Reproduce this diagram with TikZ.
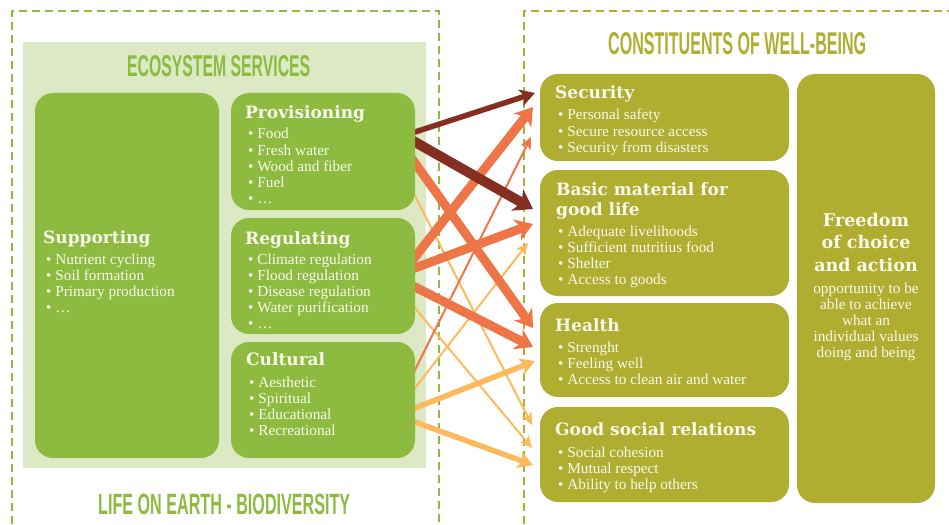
\documentclass[tikz,border=0pt]{standalone}
\usepackage{fontspec}
\usepackage{graphicx}
\setmainfont{Liberation Serif}
\newfontfamily\headfont{DejaVu Serif}
\newfontfamily\titlefont{Liberation Sans}
\usetikzlibrary{arrows.meta,calc}

\definecolor{leafgreen}{HTML}{8CBB3F}
\definecolor{paleleaf}{HTML}{DCE9C4}
\definecolor{olive}{HTML}{AFAE30}
\definecolor{paper}{HTML}{FAF9EE}
\definecolor{rust}{HTML}{852F22}
\definecolor{coral}{HTML}{EE7547}
\definecolor{apricot}{HTML}{FDB95C}

\pgfdeclarelayer{back}
\pgfdeclarelayer{links}
\pgfsetlayers{back,links,main}

\tikzset{
  gbox/.style={fill=leafgreen, draw=none, rounded corners=18pt, inner sep=0pt,
               outer sep=0pt, anchor=north west},
  obox/.style={gbox, fill=olive},
  head/.style={font=\headfont\bfseries\fontsize{17}{20.5}\selectfont, text=paper,
               inner sep=0pt, anchor=base west},
  itemtext/.style={font=\fontsize{15.3}{16.2}\selectfont, text=paper,
               inner sep=0pt, anchor=base west},
  frame/.style={line width=2pt, dash pattern=on 8pt off 5pt},
  title/.style={inner sep=0pt, anchor=base west},
  link/.style={draw=#1, line join=miter, shorten <=-8pt},
  heavy/.style={line width=10pt, -{Stealth[length=18pt,width=24pt,inset=5pt]}},
  broad/.style={line width=9pt, -{Stealth[length=17pt,width=22pt,inset=5pt]}},
  medium/.style={line width=5.5pt, -{Stealth[length=15pt,width=17pt,inset=4pt]}},
  fine/.style={line width=2pt, -{Stealth[length=12pt,width=11pt,inset=3pt]}},
}

% bulleted lines inside a box: #1 box, #2/#3 offset of first baseline, #4 items
\newcommand\itemlines[4]{%
  \foreach \txt [count=\k] in {#4}{%
    \node[itemtext] (#1-i\k) at ($(#1.north west)+(#2,{#3+(\k-1)*16.2})$)
      {\textbullet\ \txt};
  }}

\begin{document}
\begin{tikzpicture}[x=1pt,y=-1pt]
\useasboundingbox (0,0) rectangle (949,524);

% background panel and dashed frames
\begin{pgfonlayer}{back}
  \fill[paleleaf] (23,42) rectangle (426,468);
  \draw[frame, draw=leafgreen] (12,524) -- (12,11) -- (439,11) -- (439,524);
  \draw[frame, draw=olive] (524,524) -- (524,11) -- (949,11);
\end{pgfonlayer}

% section titles
\node[title, text=leafgreen] (es-title) at (127,77)
  {\resizebox{183pt}{21pt}{\titlefont\bfseries ECOSYSTEM SERVICES}};
\node[title, text=olive] (wb-title) at (608,55)
  {\resizebox{258pt}{22pt}{\titlefont\bfseries CONSTITUENTS OF WELL-BEING}};
\node[title, text=leafgreen] (bio-title) at (98,514)
  {\resizebox{252pt}{20.5pt}{\titlefont\bfseries LIFE ON EARTH - BIODIVERSITY}};

% ecosystem services
\node[gbox, minimum width=184pt, minimum height=365pt] (sup) at (35,93) {};
\node[gbox, minimum width=184pt, minimum height=117pt] (prov) at (231,93) {};
\node[gbox, minimum width=184pt, minimum height=116pt] (reg) at (231,218) {};
\node[gbox, minimum width=184pt, minimum height=116pt] (cult) at (231,342) {};

\node[head] (sup-h) at ($(sup.north west)+(8,150)$) {Supporting};
\itemlines{sup}{11}{171}{Nutrient cycling,Soil formation,Primary production,\dots}
\node[head] (prov-h) at ($(prov.north west)+(14,25)$) {Provisioning};
\itemlines{prov}{17}{46}{Food,Fresh water,Wood and fiber,Fuel,\dots}
\node[head] (reg-h) at ($(reg.north west)+(14,26)$) {Regulating};
\itemlines{reg}{17}{46}{Climate regulation,Flood regulation,Disease regulation,Water purification,\dots}
\node[head] (cult-h) at ($(cult.north west)+(15,23)$) {Cultural};
\itemlines{cult}{18}{45}{Aesthetic,Spiritual,Educational,Recreational}

% constituents of well-being
\node[obox, minimum width=249pt, minimum height=87pt] (sec) at (540,74) {};
\node[obox, minimum width=249pt, minimum height=126pt] (basic) at (540,170) {};
\node[obox, minimum width=249pt, minimum height=94pt] (health) at (540,303) {};
\node[obox, minimum width=249pt, minimum height=95pt] (social) at (540,407) {};
\node[obox, minimum width=138pt, minimum height=429pt] (free) at (797,74) {};

\node[head] (sec-h) at ($(sec.north west)+(15,25)$) {Security};
\itemlines{sec}{18}{46}{Personal safety,Secure resource access,Security from disasters}
\node[head] (basic-h1) at ($(basic.north west)+(16,25)$) {Basic material for};
\node[head] (basic-h2) at ($(basic.north west)+(16,45)$) {good life};
\itemlines{basic}{18}{66}{Adequate livelihoods,Sufficient nutritius food,Shelter,Access to goods}
\node[head] (health-h) at ($(health.north west)+(15,28)$) {Health};
\itemlines{health}{18}{49}{Strenght,Feeling well,Access to clean air and water}
\node[head] (social-h) at ($(social.north west)+(15,28)$) {Good social relations};
\itemlines{social}{18}{50}{Social cohesion,Mutual respect,Ability to help others}

\foreach \txt [count=\k] in {Freedom,of choice,and action}{
  \node[head, anchor=base, font=\headfont\bfseries\fontsize{17.5}{21}\selectfont]
    (free-h\k) at ($(free.north)+(0,{152+(\k-1)*22.5})$) {\txt};
}
\foreach \txt [count=\k] in {opportunity to be,able to achieve,what an,individual values,doing and being}{
  \node[itemtext, anchor=base] (free-b\k) at ($(free.north)+(0,{219+(\k-1)*16})$) {\txt};
}

% links from services to well-being
\begin{pgfonlayer}{links}
  \draw[link=apricot, fine] ($(prov.north east)+(0,103)$) -- ($(social.north west)+(-8,18)$);
  \draw[link=apricot, fine] ($(reg.north east)+(0,90)$) -- ($(social.north west)+(-8,41)$);
  \draw[link=apricot, fine] ($(cult.north east)+(0,46)$) -- ($(basic.north west)+(-12,73)$);
  \draw[link=coral, fine] ($(cult.north east)+(0,28)$) -- ($(sec.north west)+(-9,63)$);
  \draw[link=coral, broad] ($(prov.north east)+(0,70)$) -- ($(health.north west)+(-7,25)$);
  \draw[link=coral, broad] ($(reg.north east)+(0,69)$) -- ($(health.north west)+(-7,44)$);
  \draw[link=coral, broad] ($(reg.north east)+(0,50)$) -- ($(basic.north west)+(-7,54)$);
  \draw[link=coral, broad] ($(reg.north east)+(0,39)$) -- ($(sec.north west)+(-7,33)$);
  \draw[link=apricot, medium] ($(cult.north east)+(0,66)$) -- ($(health.north west)+(-5,58)$);
  \draw[link=apricot, medium] ($(cult.north east)+(0,80)$) -- ($(social.north west)+(-7,58)$);
  \draw[link=rust, medium] ($(prov.north east)+(0,39)$) -- ($(sec.north west)+(-5,19)$);
  \draw[link=rust, heavy] ($(prov.north east)+(0,49)$) -- ($(basic.north west)+(-7,39)$);
\end{pgfonlayer}
\end{tikzpicture}
\end{document}
